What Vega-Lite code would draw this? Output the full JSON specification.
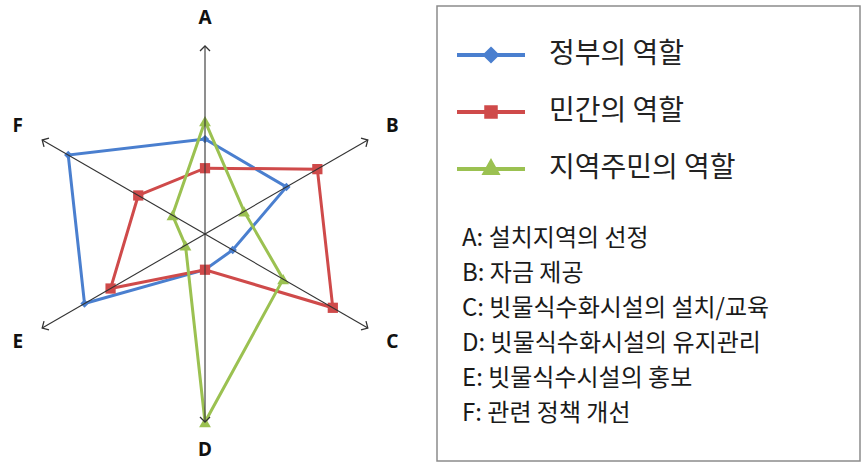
{
  "$schema": "https://vega.github.io/schema/vega-lite/v6.json",
  "background": "white",
  "padding": {"left": 0, "top": 5, "right": 0, "bottom": 0},
  "autosize": {"type": "pad"},
  "bounds": "flush",
  "spacing": 5,
  "config": {"view": {"stroke": null}, "font": "Noto Sans CJK KR"},
  "datasets": {
    "roles": [
      {"series": "정부의 역할", "axis": "A", "value": 50.5},
      {"series": "정부의 역할", "axis": "B", "value": 50},
      {"series": "정부의 역할", "axis": "C", "value": 17},
      {"series": "정부의 역할", "axis": "D", "value": 19},
      {"series": "정부의 역할", "axis": "E", "value": 74},
      {"series": "정부의 역할", "axis": "F", "value": 84},
      {"series": "민간의 역할", "axis": "A", "value": 35},
      {"series": "민간의 역할", "axis": "B", "value": 69},
      {"series": "민간의 역할", "axis": "C", "value": 78.5},
      {"series": "민간의 역할", "axis": "D", "value": 19},
      {"series": "민간의 역할", "axis": "E", "value": 58},
      {"series": "민간의 역할", "axis": "F", "value": 41},
      {"series": "지역주민의 역할", "axis": "A", "value": 60},
      {"series": "지역주민의 역할", "axis": "B", "value": 24},
      {"series": "지역주민의 역할", "axis": "C", "value": 48},
      {"series": "지역주민의 역할", "axis": "D", "value": 100},
      {"series": "지역주민의 역할", "axis": "E", "value": 12},
      {"series": "지역주민의 역할", "axis": "F", "value": 20}
    ],
    "spokes": [
      {"key": "A"}, {"key": "B"}, {"key": "C"}, {"key": "D"}, {"key": "E"}, {"key": "F"}
    ],
    "defs": [
      {"key": "A", "label": "설치지역의 선정"},
      {"key": "B", "label": "자금 제공"},
      {"key": "C", "label": "빗물식수화시설의 설치/교육"},
      {"key": "D", "label": "빗물식수화시설의 유지관리"},
      {"key": "E", "label": "빗물식수시설의 홍보"},
      {"key": "F", "label": "관련 정책 개선"}
    ]
  },
  "resolve": {"legend": {"color": "independent"}},
  "hconcat": [
    {
      "width": 432,
      "height": 455,
      "encoding": {
        "x": {"field": "px", "type": "quantitative", "axis": null,
              "scale": {"domain": [-109.04, 120.74], "nice": false, "zero": false}},
        "y": {"field": "py", "type": "quantitative", "axis": null,
              "scale": {"domain": [-120.74, 121.28], "nice": false, "zero": false}}
      },
      "layer": [
        {
          "data": {"name": "roles"},
          "transform": [
            {"calculate": "indexof(['A','B','C','D','E','F'], datum.axis)", "as": "idx"},
            {"calculate": "datum.value * sin(datum.idx * PI / 3)", "as": "px"},
            {"calculate": "datum.value * cos(datum.idx * PI / 3)", "as": "py"}
          ],
          "mark": {"type": "line", "interpolate": "linear-closed", "strokeWidth": 3, "clip": false},
          "encoding": {
            "order": {"field": "idx"},
            "color": {
              "field": "series", "type": "nominal",
              "scale": {"domain": ["정부의 역할", "민간의 역할", "지역주민의 역할"],
                        "range": ["#4A7FCF", "#CF4A4A", "#9BC151"]},
              "legend": {
                "title": null, "orient": "none", "direction": "vertical",
                "legendX": 455, "legendY": 35, "padding": 0,
                "symbolSize": 4624, "symbolStrokeWidth": 4, "clipHeight": 28,
                "rowPadding": 29, "labelOffset": 22, "labelLimit": 400,
                "labelFont": "Noto Sans CJK KR", "labelFontSize": 28, "labelColor": "#222222",
                "encode": {
                  "symbols": {
                    "update": {
                      "fill": {"scale": "color", "field": "value"},
                      "stroke": {"scale": "color", "field": "value"},
                      "strokeWidth": {"value": 4},
                      "opacity": {"value": 1},
                      "shape": [
                        {"test": "datum.value === '정부의 역할'", "value": "M-1,0L1,0M0,-0.17L0.17,0L0,0.17L-0.17,0Z"},
                        {"test": "datum.value === '민간의 역할'", "value": "M-1,0L1,0M-0.14,-0.14L0.14,-0.14L0.14,0.14L-0.14,0.14Z"},
                        {"value": "M-1,0L1,0M0,-0.2L0.18,0.12L-0.18,0.12Z"}
                      ]
                    }
                  }
                }
              }
            }
          }
        },
        {
          "data": {"name": "roles"},
          "transform": [
            {"calculate": "indexof(['A','B','C','D','E','F'], datum.axis)", "as": "idx"},
            {"calculate": "datum.value * sin(datum.idx * PI / 3)", "as": "px"},
            {"calculate": "datum.value * cos(datum.idx * PI / 3)", "as": "py"}
          ],
          "mark": {"type": "point", "filled": true, "opacity": 1, "clip": false},
          "encoding": {
            "color": {
              "field": "series", "type": "nominal",
              "scale": {"domain": ["정부의 역할", "민간의 역할", "지역주민의 역할"],
                        "range": ["#4A7FCF", "#CF4A4A", "#9BC151"]},
              "legend": {
                "title": null, "orient": "none", "direction": "vertical",
                "legendX": 455, "legendY": 35, "padding": 0,
                "symbolSize": 4624, "symbolStrokeWidth": 4, "clipHeight": 28,
                "rowPadding": 29, "labelOffset": 22, "labelLimit": 400,
                "labelFont": "Noto Sans CJK KR", "labelFontSize": 28, "labelColor": "#222222",
                "encode": {
                  "symbols": {
                    "update": {
                      "fill": {"scale": "color", "field": "value"},
                      "stroke": {"scale": "color", "field": "value"},
                      "strokeWidth": {"value": 4},
                      "opacity": {"value": 1},
                      "shape": [
                        {"test": "datum.value === '정부의 역할'", "value": "M-1,0L1,0M0,-0.17L0.17,0L0,0.17L-0.17,0Z"},
                        {"test": "datum.value === '민간의 역할'", "value": "M-1,0L1,0M-0.14,-0.14L0.14,-0.14L0.14,0.14L-0.14,0.14Z"},
                        {"value": "M-1,0L1,0M0,-0.2L0.18,0.12L-0.18,0.12Z"}
                      ]
                    }
                  }
                }
              }
            },
            "shape": {
              "field": "series", "type": "nominal", "legend": null,
              "scale": {"domain": ["정부의 역할", "민간의 역할", "지역주민의 역할"],
                        "range": ["diamond", "square", "triangle-up"]}
            },
            "size": {
              "field": "series", "type": "ordinal", "legend": null,
              "scale": {"domain": ["정부의 역할", "민간의 역할", "지역주민의 역할"],
                        "range": [70, 140, 80]}
            }
          }
        },
        {
          "data": {"name": "spokes"},
          "transform": [
            {"calculate": "indexof(['A','B','C','D','E','F'], datum.key)", "as": "idx"},
            {"calculate": "100 * sin(datum.idx * PI / 3)", "as": "px"},
            {"calculate": "100 * cos(datum.idx * PI / 3)", "as": "py"}
          ],
          "mark": {"type": "rule", "color": "#333333", "strokeWidth": 1.1, "clip": false},
          "encoding": {
            "x2": {"datum": 0},
            "y2": {"datum": 0}
          }
        },
        {
          "data": {"name": "spokes"},
          "transform": [
            {"calculate": "indexof(['A','B','C','D','E','F'], datum.key)", "as": "idx"},
            {"calculate": "100 * sin(datum.idx * PI / 3)", "as": "px"},
            {"calculate": "100 * cos(datum.idx * PI / 3)", "as": "py"},
            {"calculate": "datum.idx * 60", "as": "rot"}
          ],
          "mark": {"type": "point", "shape": "M-1,1L0,0L1,1", "filled": false, "size": 100,
                   "stroke": "#333333", "strokeWidth": 1.3, "opacity": 1, "clip": false},
          "encoding": {
            "angle": {"field": "rot", "type": "quantitative", "scale": null}
          }
        },
        {
          "data": {"name": "spokes"},
          "transform": [
            {"calculate": "indexof(['A','B','C','D','E','F'], datum.key)", "as": "idx"},
            {"calculate": "115 * sin(datum.idx * PI / 3)", "as": "px"},
            {"calculate": "115 * cos(datum.idx * PI / 3)", "as": "py"}
          ],
          "mark": {"type": "text", "font": "Noto Sans", "fontWeight": "bold", "fontSize": 19,
                   "color": "#111111", "align": "center", "baseline": "middle", "clip": false},
          "encoding": {
            "text": {"field": "key"}
          }
        }
      ]
    },
    {
      "width": 423,
      "height": 455,
      "view": {"stroke": "#8c8c8c", "strokeWidth": 1.5},
      "data": {"name": "defs"},
      "transform": [
        {"calculate": "datum.key + ': ' + datum.label", "as": "line"}
      ],
      "mark": {"type": "text", "align": "left", "baseline": "middle", "dx": 25,
               "font": "Noto Sans CJK KR", "fontSize": 24, "color": "#1a1a1a"},
      "encoding": {
        "x": {"value": 0},
        "y": {"field": "key", "type": "ordinal", "axis": null,
              "scale": {"type": "point", "padding": 0, "range": [233, 408]}},
        "text": {"field": "line"}
      }
    }
  ]
}
